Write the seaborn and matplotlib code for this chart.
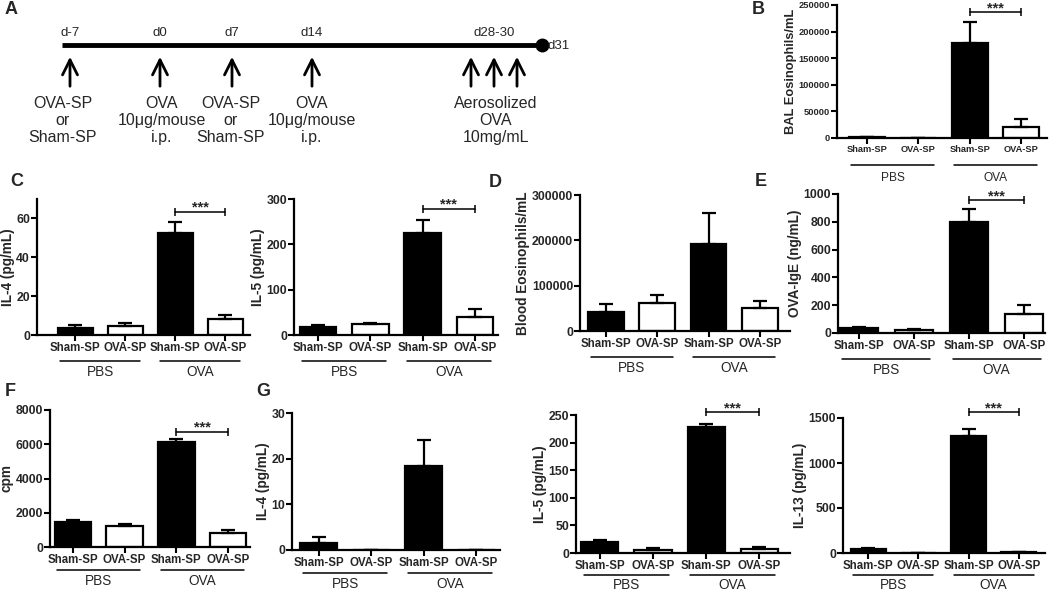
import numpy as np
import pandas as pd
import seaborn as sns
import matplotlib.pyplot as plt
from matplotlib.transforms import ScaledTranslation

sns.set_theme(style='ticks')
plt.rcParams['font.family'] = ['Liberation Sans', 'DejaVu Sans']

W, H = 1050, 594

# groups on the x axis of every bar panel
treatment = ['Sham-SP', 'OVA-SP', 'Sham-SP', 'OVA-SP']
challenge = ['PBS', 'PBS', 'OVA', 'OVA']

# B - BAL eosinophils
bal_eos = [1000, 500, 179000, 19900]
bal_eos_sem = [300, 200, 39600, 15700]
# C - IL-4 / IL-5
il4_c = [3.7, 4.6, 52.5, 8.0]
il4_c_sem = [1.4, 1.4, 5.5, 2.2]
il5_c = [17.6, 23.5, 225, 40.4]
il5_c_sem = [3.7, 2.2, 29.5, 16.1]
# D - blood eosinophils
blood_eos = [42600, 61100, 192000, 51400]
blood_eos_sem = [16300, 17700, 67600, 14800]
# E - OVA-IgE
ova_ige = [35, 22, 800, 140]
ova_ige_sem = [7, 8, 90, 60]
# F - proliferation
cpm = [1463, 1211, 6144, 842]
cpm_sem = [97, 117, 136, 135]
# G - restimulated cytokines
il4_g = [1.46, 0, 18.4, 0]
il4_g_sem = [1.44, 0, 5.6, 0]
il5_g = [20.6, 5.5, 228.6, 8.0]
il5_g_sem = [3.1, 3.1, 4.9, 2.8]
il13_g = [49, 0, 1295, 10]
il13_g_sem = [7, 0, 82, 5]

# A - protocol timeline
day_labels = ['d-7', 'd0', 'd7', 'd14', 'd28-30']
event_text = [['OVA-SP', 'or', 'Sham-SP'], ['OVA', '10\u03bcg/mouse', 'i.p.'],
              ['OVA-SP', 'or', 'Sham-SP'], ['OVA', '10\u03bcg/mouse', 'i.p.'],
              ['Aerosolized', 'OVA', '10mg/mL']]

fig = plt.figure(figsize=(W / 100, H / 100), dpi=100)
ylabels = []


def bar_panel(box, xlim, values, sem, ylabel, ylim, yticks, sig=None,
              fs=(8.3, 8.8, 9.8, 9.8), offs=(0.26, 0.37)):
    x0, x1, ytop, ybot = box
    ax = fig.add_axes([x0 / W, 1 - ybot / H, (x1 - x0) / W, (ybot - ytop) / H])
    df = pd.DataFrame({'cond': [c + ' ' + t for c, t in zip(challenge, treatment)],
                       'treatment': treatment, 'value': values})
    sns.barplot(data=df, x='cond', y='value', hue='treatment',
                palette={'Sham-SP': 'black', 'OVA-SP': 'white'}, dodge=False,
                width=0.7, edgecolor='black', linewidth=1.6, errorbar=None,
                legend=False, ax=ax)
    ax.errorbar(range(4), values, yerr=[np.zeros(4), sem], fmt='none', ecolor='black',
                elinewidth=1.6, capsize=5, capthick=1.6)
    ax.set_xlim(*xlim)
    ax.set_ylim(*ylim)
    ax.set_yticks(yticks)
    ax.set_yticklabels([str(t) for t in yticks], fontweight='bold', fontsize=fs[1])
    ax.set_xticks(range(4))
    ax.set_xticklabels(treatment, fontweight='bold', fontsize=fs[0])
    ax.tick_params(axis='both', direction='out', length=4, width=1.5, pad=1, color='black')
    ax.set_xlabel('')
    ax.set_ylabel('')
    ylabels.append((ax, ylabel, fs[2]))
    sns.despine(ax=ax)
    for s in ['left', 'bottom']:
        ax.spines[s].set_linewidth(1.6)
        ax.spines[s].set_color('black')
    line_tr = ax.get_xaxis_transform() + ScaledTranslation(0, -offs[0], fig.dpi_scale_trans)
    text_tr = ax.get_xaxis_transform() + ScaledTranslation(0, -offs[1], fig.dpi_scale_trans)
    for name, a, b in [('PBS', 0, 1), ('OVA', 2, 3)]:
        ax.plot([a - 0.3, b + 0.3], [0, 0], transform=line_tr, color='black', lw=1.1,
                clip_on=False)
        ax.text((a + b) / 2, 0, name, transform=text_tr, ha='center', va='center',
                fontsize=fs[3])
    if sig is not None:
        ax.plot([2, 3], [sig, sig], color='black', lw=1.1, marker='|', markersize=6,
                markeredgewidth=1.1, clip_on=False)
        ax.annotate('***', xy=(2.5, sig), xytext=(0, 3), textcoords='offset points',
                    ha='center', va='center', fontsize=10.5, fontweight='bold',
                    annotation_clip=False)
    return ax


# ---- A timeline ----
axa = fig.add_axes([0, 1 - 170 / H, 740 / W, 170 / H])
axa.set_xlim(0, 740)
axa.set_ylim(170, 0)
axa.axis('off')
day_x = [70, 160, 232, 312, 494]
arrow_x = [70, 160, 232, 312, 471, 494, 517]
text_x = [63, 162, 231, 312, 496]
row_y = [103, 120.5, 138]
axa.plot([62, 540], [45, 45], color='black', lw=3.5, solid_capstyle='butt')
axa.plot([542], [45], 'o', color='black', markersize=9)
axa.text(548, 46, 'd31', ha='left', va='center', fontsize=9.5)
for lab, x in zip(day_labels, day_x):
    axa.text(x, 33, lab, ha='center', va='center', fontsize=9.5)
for x in arrow_x:
    axa.annotate('', xy=(x, 54), xytext=(x, 89),
                 arrowprops=dict(arrowstyle='->,head_length=0.9,head_width=0.45', lw=2,
                                 color='black'))
for rows, x in zip(event_text, text_x):
    for t, y in zip(rows, row_y):
        axa.text(x, y, t, ha='center', va='center', fontsize=11.5)

# ---- bar panels ----
bar_panel((837, 1047, 5, 138), (-0.58, 3.5), bal_eos, bal_eos_sem, 'BAL Eosinophils/mL',
          (0, 250000), [0, 50000, 100000, 150000, 200000, 250000], sig=236000,
          fs=(6.7, 6.7, 9.3, 8.6), offs=(0.27, 0.40))
bar_panel((37, 250, 199, 335), (-0.76, 3.5), il4_c, il4_c_sem, 'IL-4 (pg/mL)',
          (0, 70), [0, 20, 40, 60], sig=63.5)
bar_panel((294, 498, 199, 335), (-0.46, 3.44), il5_c, il5_c_sem, 'IL-5 (pg/mL)',
          (0, 300), [0, 100, 200, 300], sig=278)
bar_panel((580, 790, 195, 331), (-0.51, 3.59), blood_eos, blood_eos_sem,
          'Blood Eosinophils/mL', (0, 300000), [0, 100000, 200000, 300000])
bar_panel((838, 1045, 194, 333), (-0.38, 3.38), ova_ige, ova_ige_sem, 'OVA-IgE (ng/mL)',
          (0, 1000), [0, 200, 400, 600, 800, 1000], sig=955)
bar_panel((50, 250, 410, 547), (-0.44, 3.42), cpm, cpm_sem, 'cpm',
          (0, 8000), [0, 2000, 4000, 6000, 8000], sig=6730, offs=(0.23, 0.34))
bar_panel((292, 500, 413, 550), (-0.51, 3.45), il4_g, il4_g_sem, 'IL-4 (pg/mL)',
          (0, 30), [0, 10, 20, 30], offs=(0.23, 0.34))
bar_panel((576, 790, 415, 553), (-0.45, 3.58), il5_g, il5_g_sem, 'IL-5 (pg/mL)',
          (0, 250), [0, 50, 100, 150, 200, 250], sig=255, offs=(0.22, 0.32))
bar_panel((843, 1045, 418, 553), (-0.5, 3.52), il13_g, il13_g_sem, 'IL-13 (pg/mL)',
          (0, 1500), [0, 500, 1000, 1500], sig=1565, offs=(0.22, 0.32))

# y labels sit tight against the tick labels, as in the original figure
fig.canvas.draw()
renderer = fig.canvas.get_renderer()
for ax, text, size in ylabels:
    left = min(t.get_window_extent(renderer).x0 for t in ax.get_yticklabels() if t.get_text())
    xf = ax.transAxes.inverted().transform((left - 1.5, 0))[0]
    ax.text(xf, 0.5, text, transform=ax.transAxes, rotation=90, ha='right', va='center',
            fontsize=size, fontweight='bold')

# panel letters
for letter, x, y in [('A', 11, 10), ('B', 758, 9), ('C', 17, 181), ('D', 495, 182),
                     ('E', 761, 181), ('F', 10, 392), ('G', 263, 392)]:
    fig.text(x / W, 1 - y / H, letter, ha='center', va='center', fontsize=13,
             fontweight='bold')

fig.savefig('out.png', dpi=100)
